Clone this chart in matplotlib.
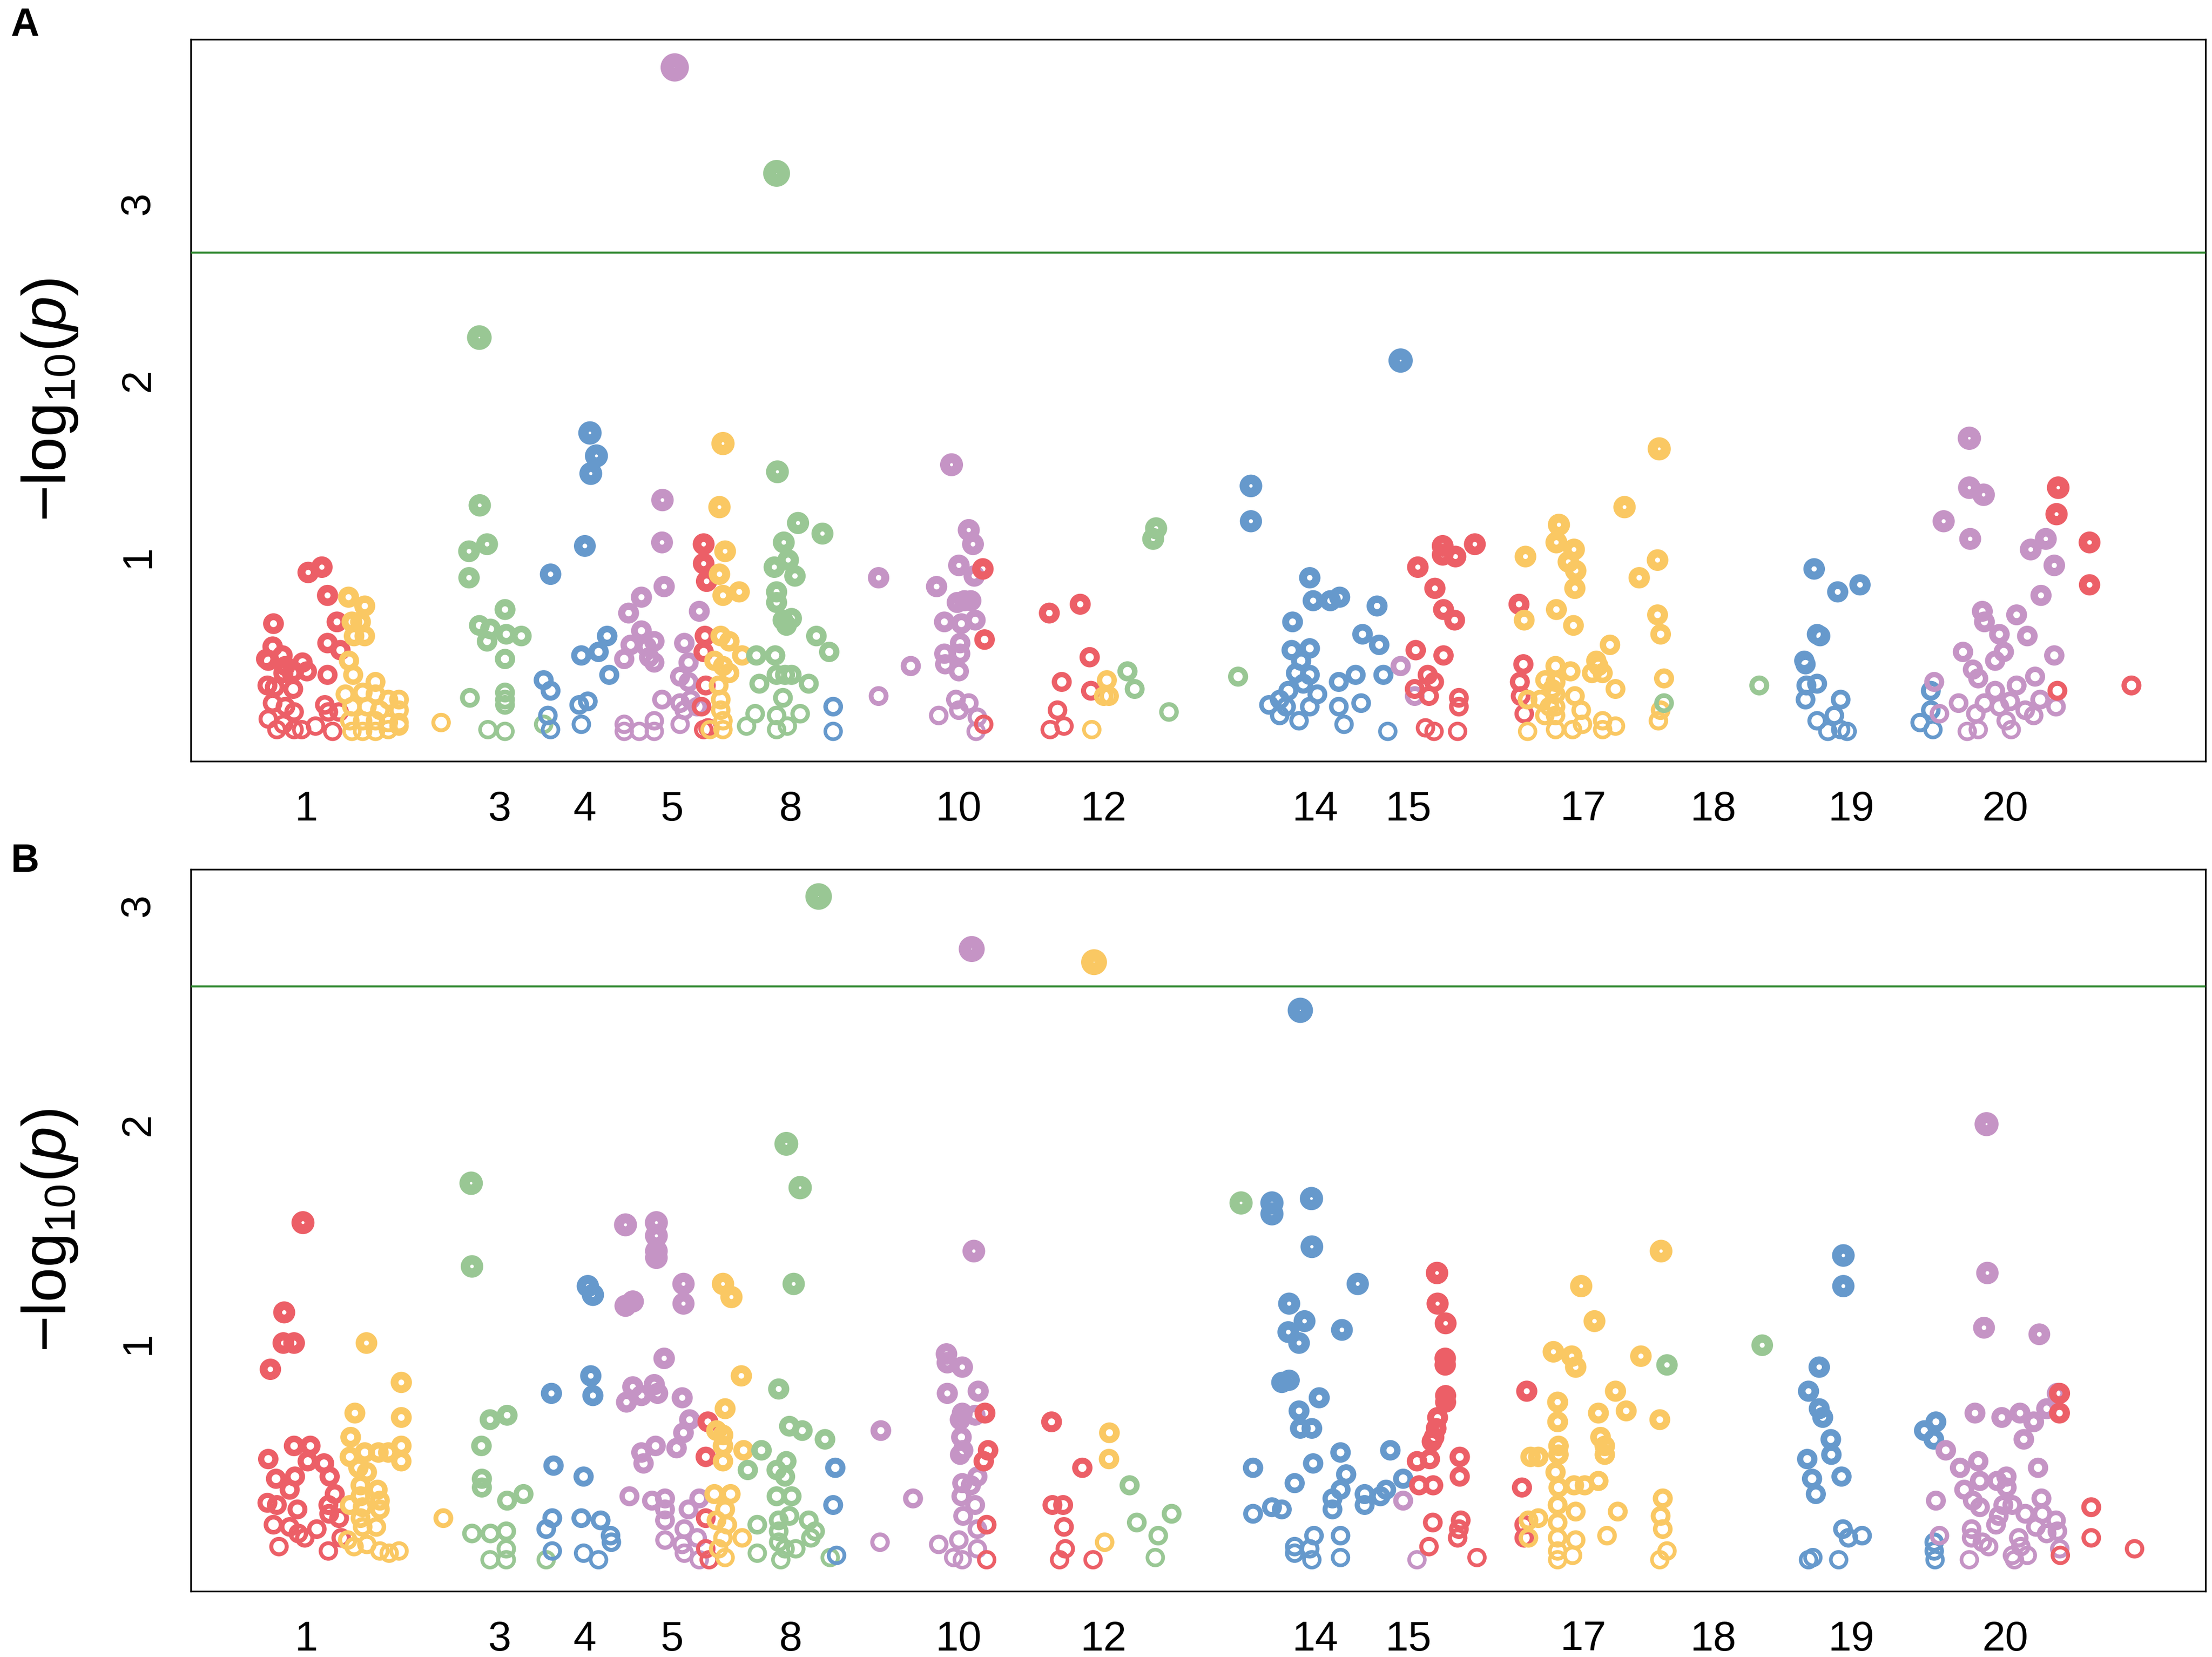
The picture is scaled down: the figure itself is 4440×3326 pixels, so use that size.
import numpy as np
import matplotlib
matplotlib.use("Agg")
import matplotlib.pyplot as plt

plt.rcParams['font.family'] = ['Liberation Sans', 'DejaVu Sans']
plt.rcParams['mathtext.fontset'] = 'custom'
plt.rcParams['mathtext.rm'] = 'Liberation Sans'
plt.rcParams['mathtext.it'] = 'Liberation Sans:italic'

# ---------------- data ----------------
chrom_colors = ['#EC5F67', '#FAC863', '#99C794', '#6699CC', '#C594C5']
tick_labels = ['1', '3', '4', '5', '8', '10', '12', '14', '15', '17', '18', '19', '20']
tick_pos = [217, 354, 414, 476, 560, 679, 782, 932, 998, 1122, 1214, 1312, 1421]
x_range = [135, 1563]
ylim_A = [-0.158, 3.93]
ylim_B = [-0.133, 3.164]
threshold_A = 2.72
threshold_B = 2.63

# Panel A: cumulative position and -log10(p) per chromosome
A_pos_1 = [193.6,193.0,188.4,189.9,200.0,202.1,206.6,208.2,214.2,217.3,200.6,189.3,194.5,207.6,193.0,202.1,208.2,189.9,196.0,200.6,208.2,213.6,223.4,235.5,230.0,232.5,240.1,231.9,231.9,241.0,238.6,231.9,218.2,227.9]
A_val_1 = [0.62,0.49,0.42,0.41,0.44,0.38,0.34,0.35,0.40,0.35,0.34,0.27,0.26,0.25,0.17,0.15,0.12,0.08,0.02,0.05,0.02,0.02,0.04,0.01,0.16,0.12,0.12,0.33,0.51,0.47,0.63,0.78,0.91,0.94]
A_pos_2 = [246.8,258.3,249.2,255.3,250.7,258.3,247.1,250.1,265.9,244.6,256.8,265.9,275.0,282.6,249.2,259.8,269.0,282.6,247.7,256.8,265.9,275.0,282.6,249.2,256.8,265.9,275.0,282.6,312.4]
A_val_2 = [0.77,0.72,0.63,0.63,0.55,0.55,0.41,0.33,0.29,0.22,0.23,0.22,0.19,0.19,0.15,0.15,0.13,0.13,0.07,0.07,0.07,0.06,0.06,0.01,0.01,0.01,0.02,0.04,0.06]
A_pos_3 = [339.5,339.8,332.2,345.0,332.2,357.7,339.5,347.4,358.6,369.3,345.0,357.7,332.8,357.7,357.7,357.7,345.6,357.7,385.1]
A_val_3 = [2.24,1.29,1.03,1.07,0.88,0.70,0.61,0.59,0.56,0.55,0.52,0.42,0.20,0.23,0.19,0.16,0.02,0.01,0.05]
A_pos_4 = [417.9,422.5,418.5,414.3,390.0,430.1,424.0,411.8,431.6,385.1,390.0,410.3,416.4,388.1,390.0,411.8]
A_val_4 = [1.70,1.57,1.47,1.06,0.90,0.55,0.46,0.44,0.33,0.30,0.24,0.16,0.18,0.10,0.02,0.05]
A_pos_5 = [478.0,469.3,469.0,470.5,454.4,445.3,495.4,454.4,446.8,463.5,458.0,442.2,459.9,463.5,484.8,487.8,481.8,487.8,469.0,481.8,489.4,484.8,493.9,442.2,452.9,463.5,463.5,481.8,442.2]
A_val_5 = [3.77,1.32,1.08,0.83,0.77,0.68,0.69,0.58,0.50,0.52,0.49,0.42,0.43,0.40,0.51,0.40,0.32,0.29,0.19,0.17,0.19,0.13,0.15,0.05,0.01,0.07,0.01,0.05,0.01]
A_pos_6 = [498.5,498.5,500.6,499.4,498.5,500.0,497.0,498.5,501.5]
A_val_6 = [1.07,0.96,0.86,0.55,0.46,0.27,0.15,0.02,0.03]
A_pos_7 = [512.2,509.7,513.7,509.7,512.2,523.7,510.6,516.7,525.8,506.1,512.2,516.7,509.1,510.6,510.6,512.2,512.2,503.0]
A_val_7 = [1.64,1.28,1.03,0.90,0.78,0.80,0.55,0.52,0.44,0.41,0.38,0.34,0.27,0.19,0.13,0.07,0.02,0.02]
A_pos_8 = [550.2,550.8,565.4,582.7,555.3,548.6,558.4,563.2,550.2,550.2,554.7,560.8,557.2,578.4,587.5,535.9,549.2,538.0,550.2,556.2,560.8,573.0,554.7,535.0,550.2,566.9,528.9,550.2,557.8]
A_val_8 = [3.17,1.48,1.19,1.13,1.08,0.94,0.98,0.89,0.80,0.74,0.64,0.65,0.61,0.55,0.46,0.44,0.44,0.28,0.33,0.33,0.33,0.28,0.20,0.11,0.10,0.11,0.04,0.02,0.04]
A_pos_9 = [590.3,590.3]
A_val_9 = [0.15,0.01]
A_pos_10 = [674.2,622.5,663.6,686.4,689.4,679.4,690.3,683.3,678.2,687.9,669.1,681.2,691.0,680.3,669.1,680.3,669.7,679.4,645.3,622.5,677.3,686.4,679.4,665.1,692.5,691.6]
A_val_10 = [1.52,0.88,0.83,1.15,1.07,0.95,0.89,0.75,0.74,0.75,0.63,0.62,0.64,0.51,0.45,0.45,0.39,0.35,0.38,0.21,0.19,0.17,0.13,0.10,0.09,0.01]
A_pos_11 = [696.4,697.6,697.0,743.5,765.4,772.1,752.3,773.0,749.3,744.1,753.9]
A_val_11 = [0.93,0.53,0.05,0.68,0.73,0.43,0.29,0.24,0.13,0.02,0.04]
A_pos_12 = [784.3,782.1,785.8,773.6]
A_val_12 = [0.30,0.21,0.21,0.02]
A_pos_13 = [819.2,817.1,798.9,804.0,828.3,877.3]
A_val_13 = [1.16,1.10,0.35,0.25,0.12,0.32]
A_pos_14 = [886.4,886.4,928.1,930.5,942.7,949.3,975.8,915.9,965.5,977.3,915.3,928.1,922.0,918.3,928.1,923.5,912.9,933.5,899.2,906.8,911.3,906.8,928.1,920.5,948.7,960.6,980.3,948.7,964.5,952.4,983.4,992.5]
A_val_14 = [1.40,1.20,0.88,0.75,0.75,0.77,0.72,0.63,0.56,0.50,0.47,0.48,0.41,0.34,0.33,0.28,0.24,0.22,0.16,0.19,0.15,0.10,0.15,0.07,0.29,0.33,0.33,0.15,0.17,0.05,0.01,2.11]
A_pos_15 = [992.5,1002.5]
A_val_15 = [0.38,0.21]
A_pos_16 = [1004.7,1022.3,1022.3,1031.4,1045.1,1016.8,1022.9,1030.8,1003.2,1022.9,1011.7,1016.2,1002.5,1012.6,1033.8,1033.8,1010.1,1016.2,1032.9,1076.4,1079.5,1077.0,1077.6,1080.1]
A_val_16 = [0.94,1.06,1.01,1.00,1.07,0.82,0.70,0.64,0.47,0.44,0.33,0.29,0.25,0.21,0.20,0.15,0.03,0.01,0.01,0.73,0.39,0.29,0.21,0.11]
A_pos_17 = [1081.0,1080.1,1082.5,1082.5,1175.8,1151.2,1104.7,1102.9,1115.4,1111.4,1116.6,1116.0,1174.6,1161.6,1102.9,1115.0,1174.6,1176.8,1140.9,1131.2,1132.7,1128.1,1135.7,1102.3,1112.9,1144.8,1179.2,1102.3,1102.3,1116.0,1102.3,1102.3,1120.5,1121.4,1114.4,1102.3,1135.7,1135.7,1144.8,1176.8,1175.2,1091.6,1094.7,1095.0,1100.0,1098.0]
A_val_17 = [1.00,0.64,0.19,0.01,1.61,1.28,1.18,1.08,1.04,0.97,0.92,0.82,0.98,0.88,0.70,0.61,0.67,0.56,0.50,0.41,0.38,0.34,0.34,0.38,0.35,0.25,0.31,0.29,0.22,0.21,0.15,0.10,0.13,0.05,0.02,0.02,0.07,0.02,0.04,0.13,0.07,0.19,0.10,0.30,0.25,0.15]
A_pos_18 = [1179.2,1246.7]
A_val_18 = [0.17,0.27]
A_pos_19 = [1285.6,1302.3,1318.1,1287.7,1289.8,1278.6,1279.5,1280.1,1287.7,1279.5,1304.4,1287.7,1299.9,1295.3,1304.4,1309.0,1368.3,1368.3,1369.8,1360.7]
A_val_19 = [0.93,0.80,0.84,0.56,0.55,0.41,0.39,0.27,0.28,0.19,0.19,0.07,0.10,0.01,0.02,0.01,0.24,0.13,0.02,0.06]
A_pos_20 = [1395.6,1395.6,1405.7,1377.4,1396.2,1439.1,1449.8,1455.8,1446.4,1404.8,1406.3,1429.1,1416.9,1436.7,1420.0,1413.9,1391.1,1398.1,1401.9,1455.8,1370.7,1388.0,1413.9,1429.1,1442.2,1406.3,1416.9,1424.5,1435.2,1445.8,1457.0,1400.2,1421.7,1441.2,1394.1,1401.9,1425.3,1374.4]
A_val_20 = [1.67,1.39,1.35,1.20,1.10,1.04,1.10,0.95,0.78,0.69,0.63,0.67,0.56,0.55,0.46,0.41,0.46,0.36,0.31,0.44,0.29,0.17,0.24,0.27,0.32,0.17,0.15,0.18,0.13,0.19,0.15,0.11,0.07,0.10,0.01,0.02,0.02,0.11]
A_pos_21 = [1458.6,1457.4,1480.8,1480.8,1458.0,1510.5]
A_val_21 = [1.39,1.24,1.08,0.84,0.24,0.27]

# Panel B
B_pos_1 = [214.5,201.2,200.6,208.2,191.4,189.9,208.2,219.7,217.9,229.4,195.4,208.8,205.1,233.4,237.0,189.3,196.0,210.6,232.5,233.1,240.1,193.6,205.1,224.3,211.2,215.8,197.5,232.5,241.6]
B_val_1 = [1.55,1.14,1.00,1.00,0.88,0.47,0.53,0.53,0.46,0.45,0.38,0.39,0.33,0.39,0.31,0.27,0.26,0.24,0.26,0.22,0.20,0.17,0.16,0.15,0.13,0.11,0.07,0.05,0.11]
B_pos_2 = [259.5,284.2,284.2,251.3,248.3,258.3,268.0,275.0,284.2,284.2,247.7,253.8,259.8,255.3,267.4,255.3,269.0,247.7,256.8,269.0,255.3,266.5,256.8,246.2,250.7,259.8,269.0,275.6,282.6,314.0]
B_val_2 = [1.00,0.82,0.66,0.68,0.57,0.50,0.50,0.50,0.53,0.46,0.48,0.43,0.41,0.35,0.33,0.30,0.28,0.26,0.25,0.24,0.20,0.16,0.16,0.10,0.07,0.08,0.05,0.04,0.05,0.20]
B_pos_3 = [333.7,334.3,347.1,359.2,341.0,341.3,341.3,359.2,370.8,334.3,347.4,358.6,358.6,347.1,358.6,386.9]
B_val_3 = [1.73,1.35,0.65,0.67,0.53,0.38,0.34,0.28,0.31,0.13,0.13,0.14,0.06,0.01,0.01,0.01]
B_pos_4 = [416.4,420.0,418.5,420.0,390.6,392.1,413.4,391.2,386.9,411.8,425.5,432.5,433.1,391.2,413.4,424.0]
B_val_4 = [1.26,1.22,0.85,0.76,0.77,0.44,0.39,0.20,0.15,0.20,0.19,0.12,0.09,0.05,0.04,0.01]
B_pos_5 = [443.1,465.0,465.0,465.0,465.0,443.1,448.3,484.2,484.2,470.5,448.3,463.5,465.9,443.8,454.4,483.3,488.5,484.2,454.4,464.4,479.3,455.9,445.9,461.9,471.1,471.1,471.1,487.8,495.4,484.8,471.1,483.3,493.9,484.8,495.4]
B_val_5 = [1.54,1.55,1.49,1.42,1.39,1.17,1.19,1.27,1.18,0.93,0.80,0.81,0.77,0.73,0.76,0.75,0.65,0.59,0.50,0.53,0.52,0.45,0.30,0.28,0.29,0.24,0.19,0.24,0.29,0.15,0.10,0.08,0.11,0.04,0.01]
B_pos_6 = [501.5,500.0,500.0,500.0,502.4]
B_val_6 = [0.64,0.48,0.20,0.06,0.01]
B_pos_7 = [512.2,518.2,525.2,513.7,507.6,512.2,512.2,526.8,512.2,506.1,517.6,513.7,507.6,515.2,525.8,512.2,509.1,513.7]
B_val_7 = [1.27,1.21,0.85,0.70,0.60,0.58,0.53,0.51,0.46,0.31,0.31,0.24,0.19,0.17,0.11,0.11,0.06,0.02]
B_pos_8 = [580.0,557.1,566.9,562.3,551.7,559.3,568.4,584.5,539.5,557.1,550.2,529.8,556.2,550.2,560.8,536.5,551.7,551.7,559.3,573.0,577.5,574.5,551.7,556.2,563.8,536.5,553.2,588.2]
B_val_8 = [3.04,1.91,1.71,1.27,0.79,0.62,0.60,0.56,0.51,0.46,0.42,0.42,0.39,0.30,0.30,0.17,0.19,0.14,0.21,0.19,0.14,0.11,0.09,0.06,0.06,0.04,0.01,0.02]
B_pos_9 = [591.8,590.3,592.7]
B_val_9 = [0.43,0.26,0.03]
B_pos_10 = [688.5,690.0,670.6,671.2,681.8,671.2,693.1,681.8,680.3,690.9,681.2,682.4,680.3,692.5,681.8,687.9,681.2,690.9,682.4,692.5,624.1,646.9,623.5,665.1,679.4,675.7,681.8,692.5]
B_val_10 = [2.80,1.42,0.95,0.91,0.89,0.77,0.78,0.68,0.65,0.67,0.57,0.51,0.49,0.39,0.36,0.35,0.30,0.26,0.21,0.15,0.60,0.29,0.09,0.08,0.10,0.02,0.01,0.06]
B_pos_11 = [697.9,700.1,697.0,699.1,699.1,745.1,766.9,745.7,753.3,753.9,754.8,750.8,774.5]
B_val_11 = [0.68,0.51,0.46,0.17,0.01,0.64,0.43,0.26,0.26,0.16,0.06,0.01,0.01]
B_pos_12 = [775.2,786.1,785.8,782.7]
B_val_12 = [2.74,0.59,0.47,0.09]
B_pos_13 = [800.4,805.5,830.2,820.7,818.6,879.4]
B_val_13 = [0.35,0.18,0.22,0.12,0.02,1.64]
B_pos_14 = [921.4,901.3,901.3,929.3,929.6,962.1,913.5,924.4,912.9,920.5,950.9,908.3,913.5,934.8,920.5,921.4,929.6,949.9,930.5,985.2,887.9,917.4,953.9,994.3,944.2,949.9,967.0,967.0,978.2,982.2,944.2,887.9,901.3,908.3,931.1,949.9,917.4,917.4,928.1,929.6,949.9]
B_val_14 = [2.52,1.64,1.59,1.66,1.44,1.27,1.18,1.10,1.05,1.00,1.06,0.82,0.83,0.75,0.69,0.61,0.61,0.50,0.45,0.51,0.43,0.36,0.40,0.38,0.29,0.33,0.31,0.26,0.30,0.33,0.24,0.22,0.25,0.24,0.12,0.12,0.07,0.04,0.06,0.01,0.02]
B_pos_15 = [994.3,1004.1]
B_val_15 = [0.28,0.01]
B_pos_16 = [1018.3,1018.7,1024.4,1024.1,1024.1,1024.4,1024.4,1018.7,1017.7,1016.2,1014.7,1004.1,1013.2,1034.4,1034.4,1005.6,1015.6,1015.3,1035.1,1033.8,1032.9,1012.6,1046.6,1081.9,1078.5,1080.1,1080.1]
B_val_16 = [1.32,1.18,1.09,0.93,0.90,0.76,0.73,0.66,0.61,0.57,0.55,0.46,0.47,0.48,0.39,0.35,0.35,0.18,0.19,0.15,0.11,0.07,0.02,0.78,0.34,0.17,0.11]
B_pos_17 = [1084.6,1083.1,1083.1,1177.1,1120.5,1129.9,1100.8,1113.8,1116.6,1162.8,1144.8,1152.4,1132.7,1176.2,1103.8,1103.8,1134.2,1137.2,1137.2,1104.4,1104.4,1102.3,1104.4,1115.4,1123.0,1132.7,1178.3,1103.8,1116.6,1146.4,1176.8,1178.3,1103.8,1103.8,1116.6,1138.8,1103.8,1114.4,1103.8,1181.3,1176.2,1090.1,1090.1]
B_val_17 = [0.48,0.19,0.11,1.42,1.26,1.10,0.96,0.94,0.89,0.94,0.78,0.69,0.68,0.65,0.73,0.64,0.57,0.53,0.49,0.53,0.49,0.41,0.34,0.35,0.35,0.37,0.29,0.26,0.23,0.23,0.21,0.15,0.18,0.11,0.10,0.12,0.05,0.03,0.01,0.05,0.01,0.20,0.48]
B_pos_18 = [1181.3,1248.8]
B_val_18 = [0.90,0.99]
B_pos_19 = [1306.3,1306.3,1289.2,1281.6,1289.2,1291.7,1297.4,1280.7,1297.8,1284.1,1305.0,1286.8,1306.0,1309.9,1319.6,1281.6,1284.7,1303.0,1371.9,1363.7,1370.4,1370.7,1370.7,1371.3]
B_val_19 = [1.40,1.26,0.89,0.78,0.70,0.66,0.56,0.47,0.49,0.38,0.39,0.31,0.15,0.11,0.12,0.01,0.02,0.01,0.64,0.60,0.56,0.09,0.05,0.01]
B_pos_20 = [1407.8,1408.4,1406.0,1445.2,1458.0,1399.6,1418.6,1431.5,1441.2,1450.4,1434.2,1378.9,1401.9,1389.0,1444.3,1403.1,1415.3,1421.9,1422.0,1392.0,1371.9,1398.1,1403.1,1419.7,1426.1,1446.7,1416.4,1435.3,1447.3,1414.5,1442.8,1457.0,1458.0,1450.4,1397.2,1397.2,1374.4,1404.8,1409.3,1430.6,1432.1,1426.1,1436.7,1427.6,1395.6,1459.7]
B_val_20 = [2.00,1.32,1.07,1.04,0.77,0.68,0.66,0.68,0.64,0.70,0.56,0.51,0.46,0.43,0.43,0.37,0.37,0.39,0.34,0.33,0.28,0.28,0.25,0.26,0.26,0.29,0.21,0.22,0.22,0.17,0.16,0.19,0.14,0.13,0.15,0.11,0.12,0.09,0.07,0.11,0.07,0.03,0.03,0.01,0.01,0.06]
B_pos_21 = [1459.5,1459.5,1482.0,1482.0,1512.7,1460.1]
B_val_21 = [0.77,0.68,0.25,0.11,0.06,0.03]

panel_A = [(A_pos_1, A_val_1), (A_pos_2, A_val_2), (A_pos_3, A_val_3), (A_pos_4, A_val_4),
           (A_pos_5, A_val_5), (A_pos_6, A_val_6), (A_pos_7, A_val_7), (A_pos_8, A_val_8),
           (A_pos_9, A_val_9), (A_pos_10, A_val_10), (A_pos_11, A_val_11), (A_pos_12, A_val_12),
           (A_pos_13, A_val_13), (A_pos_14, A_val_14), (A_pos_15, A_val_15), (A_pos_16, A_val_16),
           (A_pos_17, A_val_17), (A_pos_18, A_val_18), (A_pos_19, A_val_19), (A_pos_20, A_val_20),
           (A_pos_21, A_val_21)]
panel_B = [(B_pos_1, B_val_1), (B_pos_2, B_val_2), (B_pos_3, B_val_3), (B_pos_4, B_val_4),
           (B_pos_5, B_val_5), (B_pos_6, B_val_6), (B_pos_7, B_val_7), (B_pos_8, B_val_8),
           (B_pos_9, B_val_9), (B_pos_10, B_val_10), (B_pos_11, B_val_11), (B_pos_12, B_val_12),
           (B_pos_13, B_val_13), (B_pos_14, B_val_14), (B_pos_15, B_val_15), (B_pos_16, B_val_16),
           (B_pos_17, B_val_17), (B_pos_18, B_val_18), (B_pos_19, B_val_19), (B_pos_20, B_val_20),
           (B_pos_21, B_val_21)]


def ring_style(vals):
    """Marker grows and its ring thickens with -log10(p)."""
    v = np.asarray(vals, dtype=float)
    outer = 9.3 + 1.15 * v            # points
    hole = 5.9 * np.exp(-v / 1.1)     # points
    ms = (outer + hole) / 2.0
    lw = (outer - hole) / 2.0
    return ms ** 2, lw


W, H = 4440, 3326
fig = plt.figure(figsize=(W / 300, H / 300), dpi=300)
left = 383 / W
width = (4427 - 383) / W
axA = fig.add_axes([left, 1 - 1527.6 / H, width, (1527.6 - 78.6) / H])
axB = fig.add_axes([left, 1 - 3193.6 / H, width, (3193.6 - 1745) / H])

for ax, data, ylim, thr, letter, ly in [
        (axA, panel_A, ylim_A, threshold_A, 'A', 52),
        (axB, panel_B, ylim_B, threshold_B, 'B', 1729)]:
    for i, (pos, val) in enumerate(data):
        s, lw = ring_style(val)
        ax.scatter(pos, val, s=s, facecolors='none',
                   edgecolors=chrom_colors[i % 5], linewidths=lw, zorder=2)
    ax.axhline(thr, color='#1F7F1F', lw=1.0, zorder=3)
    ax.set_xlim(*x_range)
    ax.set_ylim(*ylim)
    ax.set_xticks(tick_pos)
    ax.set_xticklabels(tick_labels, fontsize=20)
    ax.set_yticks([1, 2, 3])
    ax.set_yticklabels(['1', '2', '3'], fontsize=20, rotation=90, va='center')
    ax.tick_params(axis='x', length=0, pad=14)
    ax.tick_params(axis='y', length=0, pad=16)
    for sp in ax.spines.values():
        sp.set_linewidth(0.8)
        sp.set_color('black')
    bb = ax.get_position()
    fig.text(100 / W, (bb.y0 + bb.y1) / 2, r'$-\mathrm{log}_{10}(\mathit{p})$',
             fontsize=30, rotation=90, ha='center', va='center')
    fig.text(50 / W, 1 - ly / H, letter, fontsize=19, fontweight='bold',
             ha='center', va='center')

fig.savefig('out.png', dpi=300)
